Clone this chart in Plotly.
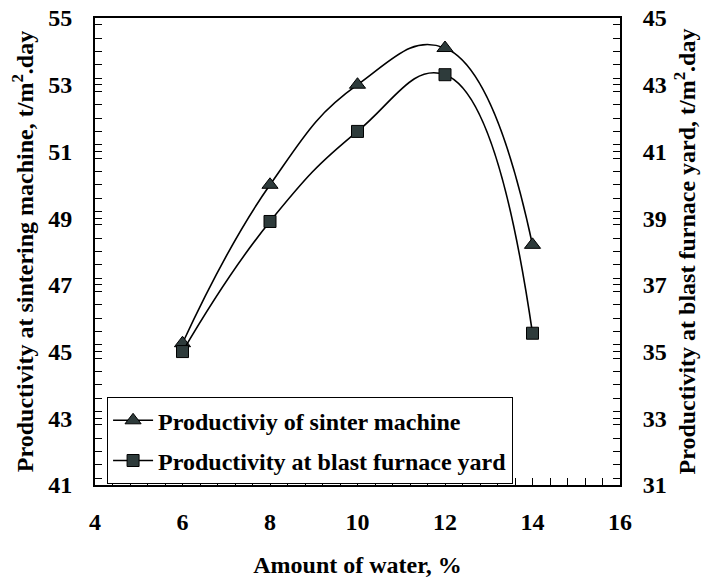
import plotly.graph_objects as go

# Moisture content of the sinter mix (%)
water = [6, 8, 10, 12, 14]
# Productivity of the sinter machine (t/m2.day), left axis
sinter_machine = [45.25, 50.0, 53.0, 54.1, 48.2]
# Productivity at the blast furnace yard (t/m2.day), right axis
bf_yard = [35.0, 38.9, 41.6, 43.3, 35.55]

left_ticks = [41, 43, 45, 47, 49, 51, 53, 55]
right_ticks = [31, 33, 35, 37, 39, 41, 43, 45]
x_ticks = [4, 6, 8, 10, 12, 14, 16]

FONT = "Liberation Serif"
MARK = "#2e3b3b"


def bold(v):
    return f"<b>{v}</b>"


fig = go.Figure()
fig.add_trace(go.Scatter(
    x=water, y=sinter_machine, name=bold("Productiviy of sinter machine"),
    legendgroup="a",
    mode="lines+markers",
    line=dict(color="black", width=1.6, shape="spline", smoothing=1.3),
    marker=dict(symbol="triangle-up", size=14, color=MARK, line=dict(color="black", width=1)),
))
fig.add_trace(go.Scatter(
    x=water, y=bf_yard, name=bold("Productivity at blast furnace yard"), yaxis="y2",
    legendgroup="b",
    mode="lines+markers",
    line=dict(color="black", width=1.6, shape="spline", smoothing=1.3),
    marker=dict(symbol="square", size=12, color=MARK, line=dict(color="black", width=1)),
))

tick_font = dict(family=FONT, size=24, color="black")
title_font = dict(family=FONT, size=24, color="black")
minor = dict(ticks="inside", ticklen=7, tickcolor="black", dtick=0.4, showgrid=False)

fig.update_layout(
    width=707, height=578,
    margin=dict(l=95, r=87, t=18, b=93),
    paper_bgcolor="white", plot_bgcolor="white",
    showlegend=True,
    legend=dict(
        x=0.023, y=0.188, xanchor="left", yanchor="top",
        bgcolor="white", bordercolor="black", borderwidth=1,
        font=dict(family=FONT, size=24, color="black"),
        itemwidth=40, traceorder="grouped", tracegroupgap=6,
    ),
    xaxis=dict(
        range=[4, 16], tickvals=x_ticks, ticktext=[bold(v) for v in x_ticks],
        ticks="inside", ticklen=7, tickcolor="black", tickwidth=1,
        showline=True, linecolor="black", linewidth=2, mirror=True,
        showgrid=False, zeroline=False, tickfont=tick_font, ticklabelstandoff=14,
        minor=minor, automargin=False,
        title=dict(text=bold("Amount of water, %"), font=title_font, standoff=22),
    ),
    yaxis=dict(
        range=[41, 55], tickvals=left_ticks, ticktext=[bold(v) for v in left_ticks],
        ticks="inside", ticklen=7, tickcolor="black", tickwidth=1,
        showline=True, linecolor="black", linewidth=2,
        showgrid=False, zeroline=False, tickfont=tick_font, ticklabelstandoff=16,
        minor=minor, automargin=False,
        title=dict(text=bold("Productivity at sintering machine, t/m<sup>2</sup>.day"),
                   font=title_font, standoff=8),
    ),
    yaxis2=dict(
        range=[31, 45], tickvals=right_ticks, ticktext=[bold(v) for v in right_ticks],
        overlaying="y", side="right",
        ticks="inside", ticklen=7, tickcolor="black", tickwidth=1,
        showline=True, linecolor="black", linewidth=2,
        showgrid=False, zeroline=False, tickfont=tick_font, ticklabelstandoff=16,
        minor=minor, automargin=False,
        title=dict(text=bold("Productivity at blast furnace yard, t/m<sup>2</sup>.day"),
                   font=title_font, standoff=12),
    ),
)

fig.write_html("out.html")
